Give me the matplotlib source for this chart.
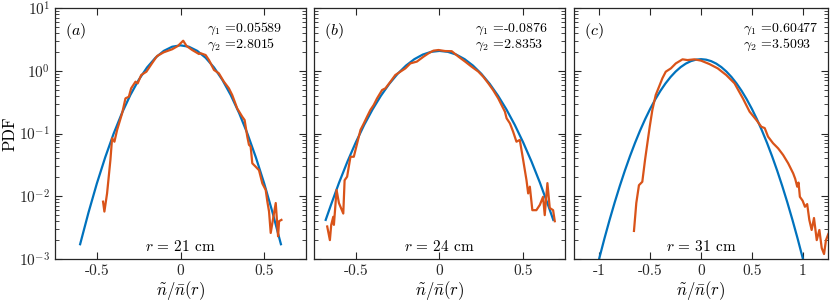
import matplotlib
matplotlib.use('Agg')
import matplotlib.pyplot as plt
from matplotlib.ticker import LogLocator, NullFormatter

plt.rcParams['mathtext.fontset'] = 'cm'
plt.rcParams['font.family'] = ['cmr10', 'DejaVu Serif']
plt.rcParams['axes.formatter.use_mathtext'] = True

BLUE = '#0072BD'
ORANGE = '#D95319'

# gaussian fits
fit_a_x = [-0.6, -0.55, -0.5, -0.45, -0.4, -0.35, -0.3, -0.25, -0.2, -0.15, -0.1, -0.05, 0,
           0.05, 0.1, 0.15, 0.2, 0.25, 0.3, 0.35, 0.4, 0.45, 0.5, 0.55, 0.6]
fit_a_y = [0.00172, 0.0055, 0.0160, 0.0418, 0.0991, 0.212, 0.410, 0.715, 1.129, 1.609, 2.074, 2.414, 2.54,
           2.414, 2.074, 1.609, 1.129, 0.715, 0.410, 0.212, 0.0991, 0.0418, 0.0160, 0.0055, 0.00172]

fit_b_x = [-0.68, -0.65, -0.6, -0.55, -0.5, -0.45, -0.4, -0.35, -0.3, -0.25, -0.2, -0.15, -0.1, -0.05, 0,
           0.05, 0.1, 0.15, 0.2, 0.25, 0.3, 0.35, 0.4, 0.45, 0.5, 0.55, 0.6, 0.65, 0.68]
fit_b_y = [0.0042, 0.0071, 0.0165, 0.0357, 0.0723, 0.137, 0.242, 0.400, 0.619, 0.895, 1.210, 1.531, 1.810, 2.002, 2.07,
           2.002, 1.810, 1.531, 1.210, 0.895, 0.619, 0.400, 0.242, 0.137, 0.0723, 0.0357, 0.0165, 0.0071, 0.0042]

fit_c_x = [-1.05, -1.0, -0.95, -0.9, -0.85, -0.8, -0.75, -0.7, -0.65, -0.6, -0.55, -0.5, -0.45, -0.4, -0.35,
           -0.3, -0.25, -0.2, -0.15, -0.1, -0.05, 0, 0.05, 0.1, 0.15, 0.2, 0.25, 0.3, 0.35, 0.4, 0.45,
           0.5, 0.55, 0.6, 0.65, 0.7, 0.75, 0.8, 0.85, 0.9, 0.95, 1.0, 1.05]
fit_c_y = [0.0005, 0.00105, 0.00214, 0.0042, 0.00795, 0.0145, 0.0255, 0.0432, 0.0706, 0.1113, 0.1692, 0.2479,
           0.3504, 0.4774, 0.6272, 0.7946, 0.9706, 1.1435, 1.2988, 1.4226, 1.502, 1.53, 1.502, 1.4226, 1.2988,
           1.1435, 0.9706, 0.7946, 0.6272, 0.4774, 0.3504, 0.2479, 0.1692, 0.1113, 0.0706, 0.0432, 0.0255,
           0.0145, 0.00795, 0.0042, 0.00214, 0.00105, 0.0005]

# measured PDFs
pdf_a_x = [-0.463, -0.455, -0.439, -0.419, -0.409, -0.395, -0.379, -0.349, -0.329, -0.309, -0.295, -0.269,
           -0.256, -0.235, -0.204, -0.170, -0.140, -0.100, -0.050, -0.016, 0.016, 0.036, 0.070, 0.110, 0.120,
           0.150, 0.170, 0.200, 0.229, 0.259, 0.289, 0.309, 0.339, 0.369, 0.383, 0.399, 0.409, 0.419, 0.429,
           0.449, 0.469, 0.489, 0.509, 0.519, 0.529, 0.539, 0.555, 0.569, 0.583, 0.589, 0.603]
pdf_a_y = [0.0082, 0.0057, 0.0111, 0.038, 0.084, 0.074, 0.114, 0.21, 0.363, 0.385, 0.525, 0.67,
           0.63, 0.855, 0.966, 1.32, 1.72, 1.97, 2.2, 2.48, 3.01, 2.48, 2.14, 1.85, 1.9,
           1.78, 1.48, 1.03, 0.91, 0.67, 0.525, 0.41, 0.25, 0.185, 0.164, 0.089, 0.066, 0.062, 0.0335,
           0.0296, 0.026, 0.016, 0.0126, 0.0082, 0.0057, 0.0026, 0.0047, 0.0078, 0.0023, 0.004, 0.0042]

pdf_b_x = [-0.671, -0.655, -0.647, -0.635, -0.631, -0.615, -0.601, -0.575, -0.567, -0.552, -0.532, -0.512,
           -0.492, -0.472, -0.452, -0.433, -0.413, -0.393, -0.373, -0.343, -0.323, -0.293, -0.264, -0.234,
           -0.204, -0.174, -0.135, -0.095, -0.065, -0.036, -0.006, 0.034, 0.073, 0.113, 0.153, 0.192, 0.232,
           0.262, 0.292, 0.321, 0.351, 0.371, 0.391, 0.401, 0.421, 0.440, 0.460, 0.480, 0.500, 0.520, 0.530,
           0.540, 0.555, 0.579, 0.600, 0.619, 0.629, 0.645, 0.659, 0.679, 0.689]
pdf_b_y = [0.0033, 0.002, 0.0035, 0.0047, 0.0035, 0.0126, 0.0078, 0.0053, 0.018, 0.0205, 0.0426, 0.0426,
           0.07, 0.114, 0.145, 0.185, 0.237, 0.285, 0.363, 0.493, 0.525, 0.67, 0.855, 0.966,
           1.09, 1.31, 1.40, 1.68, 1.90, 2.09, 2.14, 2.06, 2.05, 1.68, 1.40, 1.16, 0.97,
           0.80, 0.63, 0.49, 0.363, 0.284, 0.223, 0.175, 0.145, 0.107, 0.074, 0.079, 0.038, 0.018, 0.0111,
           0.0142, 0.006, 0.006, 0.0073, 0.0098, 0.005, 0.0162, 0.0065, 0.006, 0.004]

pdf_c_x = [-0.660, -0.637, -0.611, -0.578, -0.551, -0.528, -0.505, -0.479, -0.446, -0.413, -0.380, -0.347,
           -0.297, -0.248, -0.182, -0.133, -0.066, 0.0, 0.082, 0.165, 0.248, 0.330, 0.412, 0.478, 0.545,
           0.594, 0.627, 0.660, 0.709, 0.759, 0.808, 0.858, 0.907, 0.927, 0.947, 0.960, 0.973, 1.000,
           1.023, 1.045, 1.066, 1.089, 1.112, 1.139, 1.165, 1.188, 1.211, 1.230, 1.253]
pdf_c_y = [0.0028, 0.0078, 0.015, 0.017, 0.038, 0.07, 0.128, 0.237, 0.41, 0.557, 0.76, 0.966,
           1.09, 1.31, 1.52, 1.48, 1.52, 1.45, 1.28, 1.09, 0.855, 0.63, 0.363, 0.223, 0.164,
           0.128, 0.122, 0.089, 0.07, 0.058, 0.0455, 0.0335, 0.0232, 0.0190, 0.0142, 0.0165, 0.0098, 0.0085,
           0.0068, 0.0075, 0.0042, 0.0029, 0.0045, 0.002, 0.0029, 0.0015, 0.0012, 0.002, 0.0025]

panels = [
    dict(fx=fit_a_x, fy=fit_a_y, px=pdf_a_x, py=pdf_a_y, lab='(a)', r='21',
         g1='0.05589', g2='2.8015', xlim=(-0.75, 0.75), xt=[-0.5, 0, 0.5], gx=0.606),
    dict(fx=fit_b_x, fy=fit_b_y, px=pdf_b_x, py=pdf_b_y, lab='(b)', r='24',
         g1='-0.0876', g2='2.8353', xlim=(-0.75, 0.75), xt=[-0.5, 0, 0.5], gx=0.641),
    dict(fx=fit_c_x, fy=fit_c_y, px=pdf_c_x, py=pdf_c_y, lab='(c)', r='31',
         g1='0.60477', g2='3.5093', xlim=(-1.25, 1.25), xt=[-1, -0.5, 0, 0.5, 1], gx=0.665),
]

fig = plt.figure(figsize=(8.3, 3.03), dpi=100)
rects = [[0.0663, 0.1452, 0.3024, 0.8284],
         [0.3783, 0.1452, 0.3024, 0.8284],
         [0.6916, 0.1452, 0.3060, 0.8284]]

for i, (p, rc) in enumerate(zip(panels, rects)):
    ax = fig.add_axes(rc)
    ax.plot(p['fx'], p['fy'], color=BLUE, lw=1.6)
    ax.plot(p['px'], p['py'], color=ORANGE, lw=1.6)
    ax.set_yscale('log')
    ax.set_ylim(1e-3, 1e1)
    ax.set_xlim(*p['xlim'])
    ax.set_xticks(p['xt'])
    ax.set_xticklabels([('%g' % v) for v in p['xt']])
    ax.yaxis.set_minor_locator(LogLocator(base=10, subs=range(2, 10), numticks=20))
    ax.yaxis.set_minor_formatter(NullFormatter())
    ax.set_yticks([1e-3, 1e-2, 1e-1, 1e0, 1e1])
    if i == 0:
        ax.set_yticklabels([r'$10^{-3}$', r'$10^{-2}$', r'$10^{-1}$', r'$10^{0}$', r'$10^{1}$'])
        ax.set_ylabel('PDF', fontsize=12, labelpad=1)
    else:
        ax.set_yticklabels([])
    ax.tick_params(which='both', direction='in', top=True, right=True, labelsize=11,
                   color='#262626', labelcolor='#262626')
    ax.tick_params(which='major', length=5, width=0.8)
    ax.tick_params(which='minor', length=2.8, width=0.6)
    for s in ax.spines.values():
        s.set_linewidth(0.9)
        s.set_color('#262626')
    ax.set_xlabel(r'$\tilde{n}/\bar{n}(r)$', fontsize=12, labelpad=1)
    ax.text(0.04, 0.91, '$' + p['lab'] + '$', transform=ax.transAxes, fontsize=11.5,
            va='center', ha='left')
    ax.text(p['gx'], 0.915, r'$\gamma_1$ =' + p['g1'], transform=ax.transAxes,
            fontsize=10, va='center', ha='left')
    ax.text(p['gx'], 0.855, r'$\gamma_2$ =' + p['g2'], transform=ax.transAxes,
            fontsize=10, va='center', ha='left')
    ax.text(0.5, 0.05, r'$r$ = ' + p['r'] + ' cm', transform=ax.transAxes,
            fontsize=11, va='center', ha='center')

fig.savefig('out.png', dpi=100)
